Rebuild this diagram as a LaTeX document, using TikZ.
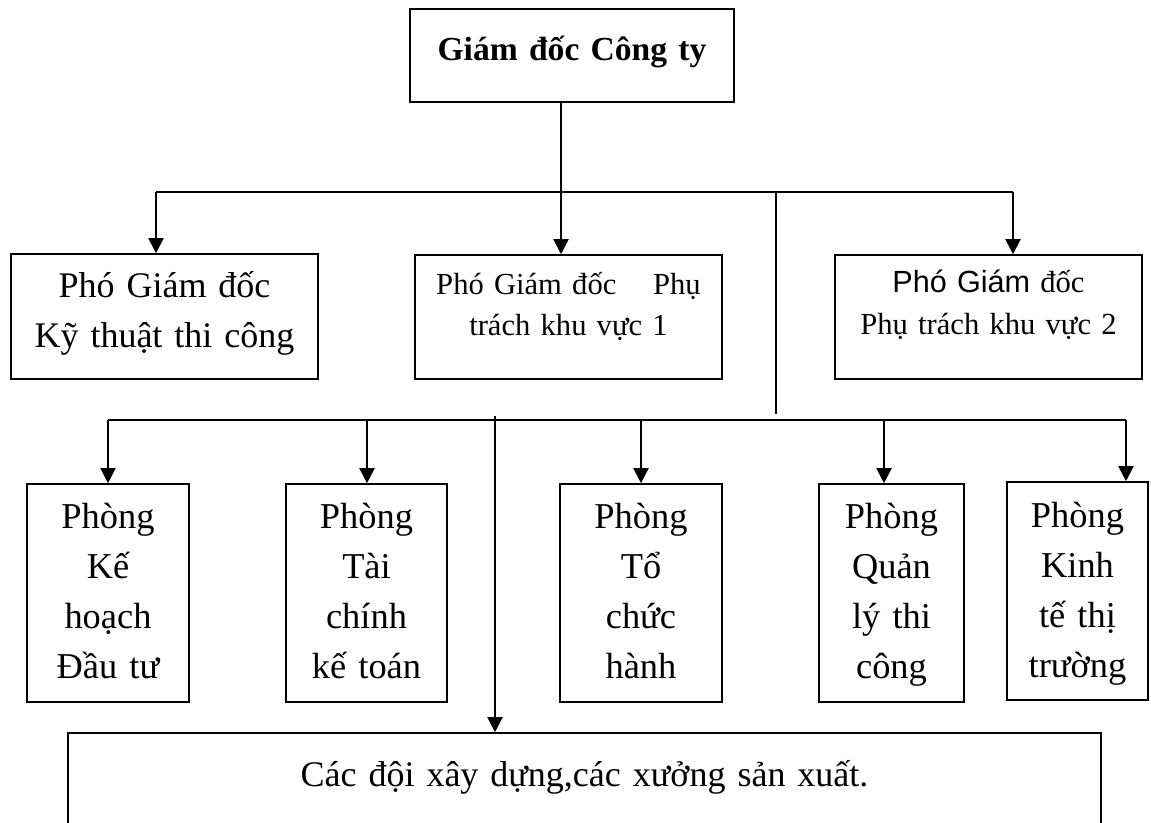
\documentclass[tikz,border=0pt]{standalone}
\usepackage{fontspec}
\setmainfont{Liberation Serif}
\newfontfamily\arialfont{Liberation Sans}
\usetikzlibrary{arrows.meta,positioning,calc}

\begin{document}
\begin{tikzpicture}[
  x=0.5pt, y=-0.5pt,
  box/.style={draw, line width=0.8pt, inner sep=0pt, align=center},
  capbox/.style={box, text width=162pt, text height=26pt, text depth=20.5pt,
                 font=\fontsize{16.8}{20}\selectfont\bfseries},
  pgdbox/.style={box, text width=153.5pt},
  phongbox/.style={box, text height=22pt, text depth=87pt,
                   font=\fontsize{18.2}{25}\selectfont},
  doibox/.style={box, text width=516.5pt, text height=26.5pt, text depth=22pt,
                 font=\fontsize{18}{22}\selectfont},
  link/.style={line width=1pt},
  arr/.style={link, -{Triangle[length=7.5pt,width=7.5pt]}},
]
  \useasboundingbox (0,0) rectangle (1151,823);

  \node[capbox] (gd) at (572,55.5) {Giám đốc Công ty};

  \node[pgdbox, text height=22pt, text depth=40.5pt, font=\fontsize{18}{25}\selectfont]
    (pgd1) at (164.5,316.5) {Phó Giám đốc\\Kỹ thuật thi công};
  \node[pgdbox, text height=20pt, text depth=42pt, font=\fontsize{15.3}{20.5}\selectfont]
    (pgd2) at (568.5,317) {Phó Giám đốc\hspace{1.2em}Phụ\\trách khu vực 1};
  \node[pgdbox, text height=19pt, text depth=43pt, font=\fontsize{15.3}{21}\selectfont]
    (pgd3) at (988.5,317) {{\arialfont Phó Giám} đốc\\Phụ trách khu vực 2};

  \node[phongbox, text width=81pt] (pkh) at (108,593) {Phòng\\Kế\\hoạch\\Đầu tư};
  \node[phongbox, text width=80.5pt] (ptc) at (366.5,593) {Phòng\\Tài\\chính\\kế toán};
  \node[phongbox, text width=81pt] (pto) at (641,593) {Phòng\\Tổ\\chức\\hành};
  \node[phongbox, text width=72.5pt] (pql) at (891.5,593) {Phòng\\Quản\\lý thi\\công};
  \node[phongbox, text width=70.5pt, text height=22.5pt, text depth=86.5pt]
    (pkt) at (1077.5,591) {Phòng\\Kinh\\tế thị\\trường};

  \node[doibox] (doi) at (584.5,781.5) {Các đội xây dựng,các xưởng sản xuất.};

  \coordinate (top) at (561,192);
  \coordinate (bl) at (156,192);
  \coordinate (br) at (1013,192);
  \coordinate (vr) at (776,192);
  \coordinate (vrend) at (776,414);
  \draw[link] (gd.south -| top) -- (top);
  \draw[link] (bl) -- (br);
  \draw[arr] (bl) -- (bl |- pgd1.north);
  \draw[arr] (top) -- (top |- pgd2.north);
  \draw[arr] (br) -- (br |- pgd3.north);
  \draw[link] (vr) -- (vrend);

  \coordinate (ll) at (108,420);
  \coordinate (lr) at (1126,420);
  \draw[link] (ll) -- (lr);
  \foreach \n/\x in {pkh/108, ptc/367, pto/641, pql/884, pkt/1126} {
    \coordinate (a\n) at (\x,420);
    \draw[arr] (a\n) -- (a\n |- \n.north);
  }

  \coordinate (dtop) at (495,416);
  \draw[arr] (dtop) -- (dtop |- doi.north);
\end{tikzpicture}
\end{document}
